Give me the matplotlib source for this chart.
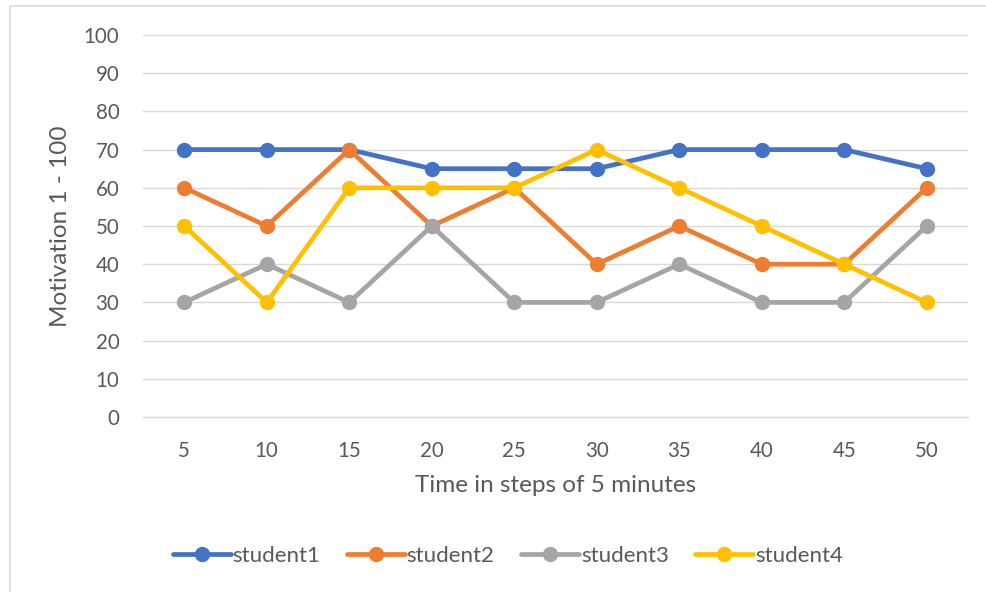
import matplotlib
matplotlib.use("Agg")
import matplotlib.pyplot as plt
from matplotlib.patches import Rectangle

plt.rcParams['font.family'] = ['Lato', 'DejaVu Sans']

minutes = [5, 10, 15, 20, 25, 30, 35, 40, 45, 50]
student1 = [70, 70, 70, 65, 65, 65, 70, 70, 70, 65]
student2 = [60, 50, 70, 50, 60, 40, 50, 40, 40, 60]
student3 = [30, 40, 30, 50, 30, 30, 40, 30, 30, 50]
student4 = [50, 30, 60, 60, 60, 70, 60, 50, 40, 30]
series_names = ["student1", "student2", "student3", "student4"]
colors = ["#4472C4", "#ED7D31", "#A5A5A5", "#FFC000"]
y_ticks = [0, 10, 20, 30, 40, 50, 60, 70, 80, 90, 100]

W, H = 987, 592
fig = plt.figure(figsize=(W / 100, H / 100), dpi=100)

# chart frame
fig.patches.append(Rectangle((10 / W, -0.05), 1.1, 1 - 6 / H + 0.05,
                             transform=fig.transFigure, fill=False,
                             edgecolor="#D9D9D9", linewidth=1.2))

ax = fig.add_axes([143 / W, 1 - 417 / H, (968 - 143) / W, (417 - 35) / H])
x = list(range(len(minutes)))
handles = []
for vals, name, c in zip([student1, student2, student3, student4], series_names, colors):
    h, = ax.plot(x, vals, color=c, linewidth=3.4, marker="o", markersize=10,
                 label=name, solid_capstyle="round", zorder=3)
    handles.append(h)

ax.set_xlim(-0.5, len(minutes) - 0.5)
ax.set_ylim(0, 100)
ax.set_yticks(y_ticks)
ax.set_xticks(x)
ax.set_xticklabels([str(m) for m in minutes])
ax.grid(axis="y", color="#D9D9D9", linewidth=1)
ax.set_axisbelow(True)
for s in ["top", "right", "left"]:
    ax.spines[s].set_visible(False)
ax.spines["bottom"].set_color("#D9D9D9")
ax.spines["bottom"].set_linewidth(1)
ax.tick_params(length=0, colors="#595959", labelsize=14.8)
ax.tick_params(axis="x", pad=17)
ax.tick_params(axis="y", pad=17)

ax.set_xlabel("Time in steps of 5 minutes", fontsize=17.5, color="#595959", labelpad=10)
ax.set_ylabel("Motivation 1 - 100", fontsize=17.5, color="#595959", labelpad=9)

fig.legend(handles=handles, loc="center", bbox_to_anchor=(508 / W, 1 - 556 / H),
           ncol=4, frameon=False, fontsize=16, labelcolor="#595959",
           handlelength=2.6, handletextpad=0.08, columnspacing=1.2)

fig.savefig("out.png", dpi=100)
